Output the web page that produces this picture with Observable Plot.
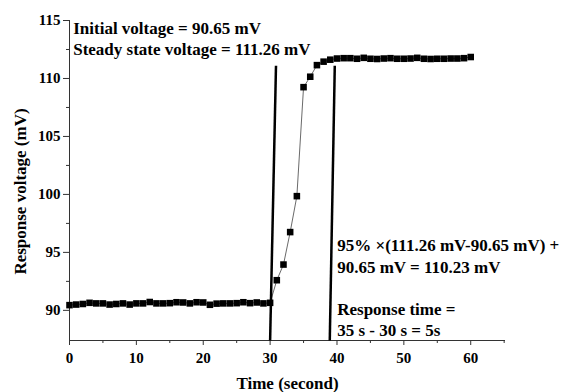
<!DOCTYPE html>
<html>
<head>
<meta charset="utf-8">
<script src="https://cdn.jsdelivr.net/npm/d3@7"></script>
<script src="https://cdn.jsdelivr.net/npm/@observablehq/plot@0.6"></script>
<style>
  html, body { margin: 0; padding: 0; background: white; }
</style>
</head>
<body>
<div id="chart"></div>
<script>
// Time (second)
const time = [0,1,2,3,4,5,6,7,8,9,10,11,12,13,14,15,16,17,18,19,20,
  21,22,23,24,25,26,27,28,29,30,31,32,33,34,35,36,37,38,39,40,
  41,42,43,44,45,46,47,48,49,50,51,52,53,54,55,56,57,58,59,60];
// Response voltage (mV)
const voltage = [90.45,90.5,90.55,90.65,90.6,90.6,90.5,90.55,90.6,90.5,90.6,
  90.6,90.72,90.6,90.6,90.62,90.7,90.68,90.6,90.7,90.68,
  90.48,90.58,90.6,90.6,90.62,90.7,90.62,90.68,90.6,90.65,
  92.6,93.95,96.75,99.85,109.25,110.15,111.15,111.45,111.62,111.72,
  111.75,111.75,111.7,111.78,111.7,111.68,111.72,111.75,111.7,111.7,
  111.72,111.78,111.7,111.68,111.7,111.7,111.72,111.72,111.75,111.85];

// Guide lines (start/end in data units)
const guideX1 = [30.0, 38.92];
const guideY1 = [87.4, 87.4];
const guideX2 = [30.88, 39.67];
const guideY2 = [111.1, 111.1];

const xMajor = [0,10,20,30,40,50,60];
const xMinor = [5,15,25,35,45,55,65];
const yMajor = [90,95,100,105,110,115];
const yMinor = [92.5,97.5,102.5,107.5,112.5];

const annotationTop = "Initial voltage = 90.65 mV\nSteady state voltage = 111.26 mV";
const annotationRight = "95% \u00d7(111.26 mV-90.65 mV) +\n90.65 mV = 110.23 mV\n\nResponse time =\n35 s - 30 s = 5s";
const xTitle = "Time (second)";
const yTitle = "Response voltage (mV)";

const data = time.map((t, i) => ({t, v: voltage[i]}));
const guides = guideX1.map((x1, i) => ({x1, y1: guideY1[i], x2: guideX2[i], y2: guideY2[i]}));

const axisColor = "#333";

const chart = Plot.plot({
  width: 565,
  height: 392,
  marginLeft: 69,
  marginRight: 60,
  marginTop: 20,
  marginBottom: 52,
  x: {domain: [0, 65.2]},
  y: {domain: [87.4, 115]},
  style: {
    fontFamily: "'Liberation Serif', 'Times New Roman', serif",
    fontWeight: "bold",
    fontSize: "15px",
    background: "white",
    color: "black"
  },
  marks: [
    Plot.ruleX([0], {stroke: axisColor, strokeWidth: 1}),
    Plot.ruleY([87.4], {stroke: axisColor, strokeWidth: 1}),
    Plot.axisX(xMajor, {tickSize: 5, tickPadding: 7, label: null, stroke: axisColor, fontSize: 15}),
    Plot.axisX(xMinor, {tickSize: 3, text: null, label: null, stroke: axisColor}),
    Plot.axisY(yMajor, {tickSize: 6, tickPadding: 3, label: null, stroke: axisColor, fontSize: 15}),
    Plot.axisY(yMinor, {tickSize: 3, text: null, label: null, stroke: axisColor}),
    Plot.line(data, {x: "t", y: "v", stroke: "#444", strokeWidth: 0.8}),
    Plot.dot(data, {x: "t", y: "v", symbol: "square", r: 3.7, fill: "black"}),
    Plot.link(guides, {x1: "x1", y1: "y1", x2: "x2", y2: "y2", stroke: "black", strokeWidth: 2.5}),
    Plot.text([annotationTop], {frameAnchor: "top-left", textAnchor: "start", lineAnchor: "top", dx: 3.7, dy: -1.6, fontSize: 17, lineHeight: 21/17, fill: "black"}),
    Plot.text([annotationRight], {frameAnchor: "top-left", textAnchor: "start", lineAnchor: "top", dx: 267.7, dy: 215.6, fontSize: 17, lineHeight: 21.3/17, fill: "black"}),
    Plot.text([xTitle], {frameAnchor: "bottom", lineAnchor: "bottom", dy: 48, fontSize: 17, fill: "black"}),
    Plot.text([yTitle], {frameAnchor: "left", rotate: -90, textAnchor: "middle", lineAnchor: "middle", dx: -49, dy: 11, fontSize: 17, fill: "black"})
  ]
});
document.getElementById("chart").appendChild(chart);
</script>
</body>
</html>
